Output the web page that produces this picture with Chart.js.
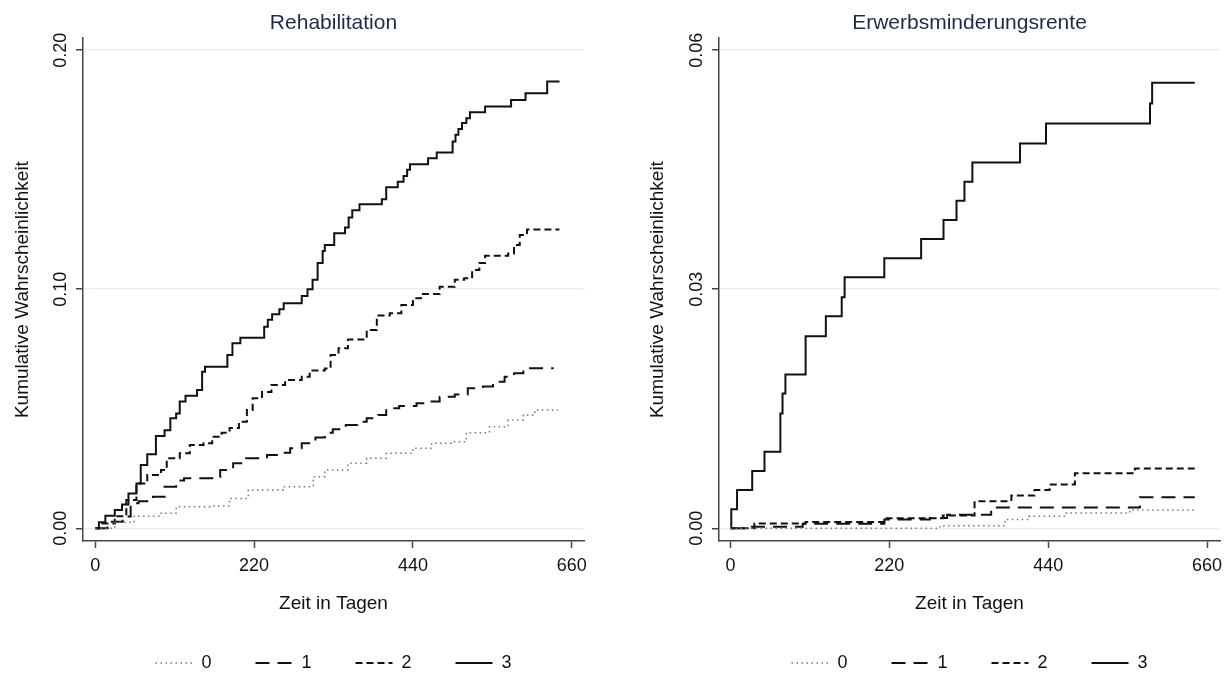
<!DOCTYPE html>
<html>
<head>
<meta charset="utf-8">
<script src="https://cdn.jsdelivr.net/npm/chart.js@4/dist/chart.umd.min.js"></script>
<style>
  body { margin: 0; background: #fff; }
  .panel { position: absolute; top: 0; width: 615px; height: 673px; }
</style>
</head>
<body>
<div class="panel" style="left:0"><canvas id="rehabChart" width="615" height="673"></canvas></div>
<div class="panel" style="left:615px"><canvas id="erwChart" width="615" height="673"></canvas></div>
<script>
const groups = ['0', '1', '2', '3'];
const xTicks = [0, 220, 440, 660];
const rehabYTicks = [0, 0.10, 0.20];
const erwYTicks = [0, 0.03, 0.06];

// Rehabilitation, days of each step and cumulative value from that day on
const rehabDays0 = [0, 27, 54, 91, 112, 159, 186, 212, 260, 302, 318, 350, 376, 403, 440, 466, 493, 514, 546, 572, 593, 609, 641];
const rehabVals0 = [0, .0025, .0051, .0063, .009, .0093, .0125, .016, .0174, .0216, .0244, .0272, .0293, .0314, .0335, .0356, .0362, .040, .0425, .0453, .0474, .0495, .0495];
const rehabDays1 = [0, 17, 38, 49, 60, 80, 96, 112, 123, 162, 173, 191, 207, 238, 257, 270, 286, 305, 318, 329, 347, 363, 376, 392, 403, 421, 445, 461, 477, 498, 516, 537, 551, 567, 580, 593, 635];
const rehabVals1 = [0, .0027, .0049, .0105, .0113, .0132, .0174, .020, .0209, .0215, .0244, .0272, .0293, .0307, .0316, .0335, .0356, .038, .040, .0414, .0432, .0446, .046, .0474, .0502, .0512, .0523, .053, .055, .056, .0586, .0593, .0613, .0634, .0649, .067, .067];
const rehabDays2 = [0, 10, 27, 43, 57, 72, 91, 99, 117, 131, 150, 162, 175, 186, 199, 210, 218, 231, 244, 263, 286, 297, 318, 326, 337, 350, 376, 390, 408, 424, 440, 451, 477, 498, 511, 522, 532, 540, 572, 580, 588, 598, 643];
const rehabVals2 = [0, .002, .005, .0118, .0188, .0223, .0244, .0293, .0314, .0349, .0356, .0383, .040, .042, .0446, .0495, .0544, .057, .060, .062, .0634, .066, .0668, .0725, .0753, .079, .083, .089, .090, .0934, .0962, .098, .101, .104, .1046, .108, .111, .114, .115, .1185, .1227, .125, .125];
const rehabDays3 = [0, 5, 14, 27, 37, 46, 57, 63, 72, 84, 96, 104, 112, 117, 125, 141, 148, 152, 183, 190, 201, 234, 239, 245, 255, 261, 286, 294, 301, 308, 315, 318, 331, 346, 351, 356, 366, 397, 403, 419, 427, 432, 436, 461, 473, 495, 499, 503, 508, 514, 519, 540, 576, 596, 626, 643];
const rehabVals3 = [0, .0025, .0053, .0077, .010, .0146, .0188, .0265, .031, .0386, .041, .046, .048, .053, .0555, .0579, .0655, .0676, .0725, .0774, .0797, .0843, .0872, .0895, .0916, .0941, .0972, .100, .104, .111, .116, .1185, .1234, .1258, .130, .133, .1356, .1376, .1427, .145, .1474, .150, .1523, .1548, .1572, .1618, .1646, .167, .1695, .1715, .174, .1764, .1792, .182, .1869, .1869];

// Erwerbsminderungsrente
const erwDays0 = [0, 290, 380, 413, 465, 553, 643];
const erwVals0 = [0, .0003, .0011, .0015, .0019, .0023, .0023];
const erwDays1 = [0, 25, 100, 213, 276, 300, 361, 567, 643];
const erwVals1 = [0, .0002, .00055, .0011, .0013, .0017, .0026, .0039, .0039];
const erwDays2 = [0, 33, 104, 213, 294, 338, 389, 421, 442, 477, 560, 643];
const erwVals2 = [0, .0006, .0008, .00125, .0016, .0034, .0041, .0048, .0055, .0069, .0075, .0075];
const erwDays3 = [0, 1, 9, 30, 47, 69, 72, 76, 104, 132, 154, 158, 213, 264, 295, 313, 324, 335, 401, 437, 581, 584, 643];
const erwVals3 = [0, .0024, .0048, .0072, .0096, .0144, .0169, .0193, .0241, .0266, .029, .0315, .0339, .0363, .0387, .0411, .0435, .0459, .0483, .0508, .0533, .0559, .0559];

Chart.defaults.font.family = '"Liberation Sans", Arial, sans-serif';
Chart.defaults.color = '#111';

const lineStyles = [
  {borderColor: '#777', borderWidth: 1.5, borderDash: [1.5, 3.5]},
  {borderColor: '#111', borderWidth: 2, borderDash: [14, 8]},
  {borderColor: '#111', borderWidth: 2, borderDash: [7, 4]},
  {borderColor: '#111', borderWidth: 2, borderDash: []}
];
const axisColor = '#444';

// put title and legend under the middle of the plot area, like Stata does
const centerOnPlot = {
  id: 'centerOnPlot',
  afterLayout(chart) {
    const a = chart.chartArea;
    [chart.legend, chart.titleBlock].forEach(box => {
      if (box) { box.left = a.left; box.right = a.right; }
    });
  }
};

function steps(days, vals) {
  return days.map((d, i) => ({x: d, y: vals[i]}));
}

// legend samples must carry the dash pattern of the line, not of the points
function lineLabels(chart) {
  return chart.data.datasets.map((ds, i) => ({
    text: ds.label,
    datasetIndex: i,
    hidden: false,
    pointStyle: 'line',
    strokeStyle: ds.borderColor,
    fillStyle: ds.borderColor,
    lineWidth: ds.borderWidth,
    lineDash: ds.borderDash,
    lineCap: 'butt',
    fontColor: '#111'
  }));
}

function makeChart(id, title, series, yTicks, yMin, yMax, xMin, xMax, yWidth, padRight, yTitlePad) {
  return new Chart(document.getElementById(id), {
    type: 'line',
    data: {
      datasets: series.map((s, i) => ({
        label: groups[i],
        data: steps(s[0], s[1]),
        stepped: 'before',
        pointRadius: 0,
        fill: false,
        backgroundColor: lineStyles[i].borderColor,
        ...lineStyles[i]
      }))
    },
    options: {
      responsive: false,
      animation: false,
      layout: {padding: {left: 0, right: padRight, top: 0, bottom: -9}},
      plugins: {
        title: {
          display: true, text: title, color: '#1c2b4a',
          font: {size: 21, weight: 'normal'}, padding: {top: 11, bottom: 2}
        },
        legend: {
          position: 'bottom',
          labels: {
            usePointStyle: true, pointStyle: 'line', pointStyleWidth: 37,
            padding: 44, color: '#111', font: {size: 18},
            generateLabels: lineLabels
          }
        },
        tooltip: {enabled: false}
      },
      scales: {
        x: {
          type: 'linear', min: xMin, max: xMax,
          afterBuildTicks: s => { s.ticks = xTicks.map(v => ({value: v})); },
          afterFit: s => { s.height = 69; },
          grid: {drawOnChartArea: false, tickLength: 7, tickColor: axisColor, tickWidth: 1.5},
          border: {color: axisColor, width: 1.5},
          ticks: {padding: 7, maxRotation: 0, autoSkip: false, font: {size: 18}, callback: v => String(v)},
          title: {display: true, text: 'Zeit in Tagen', font: {size: 19}, padding: {top: 0, bottom: -5}}
        },
        y: {
          type: 'linear', min: yMin, max: yMax,
          afterBuildTicks: s => { s.ticks = yTicks.map(v => ({value: v})); },
          afterFit: s => { s.width = yWidth; },
          grid: {color: '#e6eff1', lineWidth: 1.5, tickLength: 7, tickColor: axisColor, tickWidth: 1.5},
          border: {color: axisColor, width: 1.5},
          ticks: {
            minRotation: 90, maxRotation: 90, crossAlign: 'center', padding: -3,
            autoSkip: false, font: {size: 18}, callback: v => v.toFixed(2)
          },
          title: {display: true, text: 'Kumulative Wahrscheinlichkeit', font: {size: 19}, padding: {top: yTitlePad, bottom: 0}}
        }
      }
    },
    plugins: [centerOnPlot]
  });
}

makeChart('rehabChart', 'Rehabilitation',
  [[rehabDays0, rehabVals0], [rehabDays1, rehabVals1], [rehabDays2, rehabVals2], [rehabDays3, rehabVals3]],
  rehabYTicks, -0.0053, 0.205, -17, 677, 83, 31, 11);

makeChart('erwChart', 'Erwerbsminderungsrente',
  [[erwDays0, erwVals0], [erwDays1, erwVals1], [erwDays2, erwVals2], [erwDays3, erwVals3]],
  erwYTicks, -0.0016, 0.0615, -16, 678, 104, 10, 31);
</script>
</body>
</html>
